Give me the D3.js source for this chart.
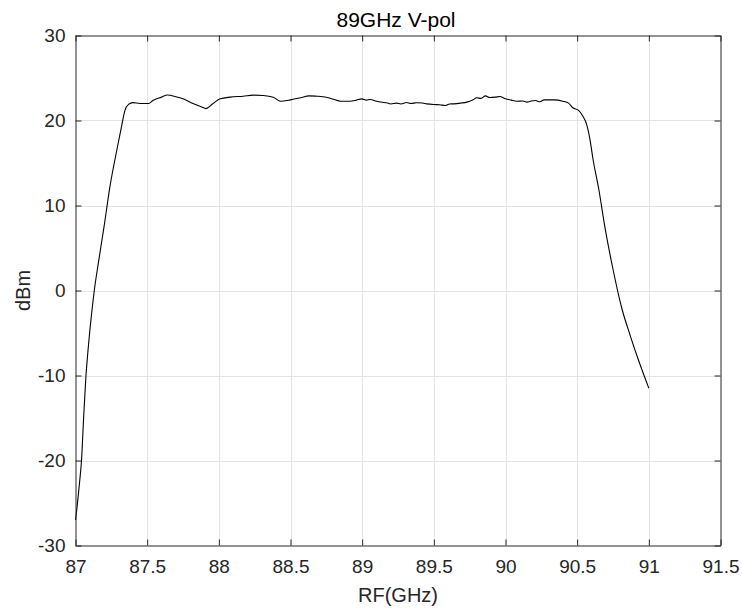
<!DOCTYPE html>
<html>
<head>
<meta charset="utf-8">
<script src="https://cdn.jsdelivr.net/npm/d3@7"></script>
<style>
  body { margin: 0; background: #fff; }
  svg { display: block; font-family: "Liberation Sans", Arial, sans-serif; }
</style>
</head>
<body>
<div id="chart"></div>
<script>
const freqGHz = [
  87.000, 87.010, 87.020, 87.030, 87.042, 87.056, 87.072, 87.086, 87.100, 87.115,
  87.131, 87.160, 87.200, 87.240, 87.288, 87.320, 87.345, 87.370, 87.400,
  87.450, 87.510, 87.540, 87.600, 87.640, 87.700, 87.750, 87.820, 87.880, 87.910,
  87.960, 88.010, 88.080, 88.170, 88.240, 88.310, 88.380, 88.430, 88.500, 88.570,
  88.630, 88.680, 88.750, 88.800, 88.850, 88.915, 88.960, 88.997, 89.030, 89.055,
  89.100, 89.140, 89.170, 89.200, 89.240, 89.270, 89.310, 89.340, 89.380, 89.420,
  89.450, 89.500, 89.540, 89.580, 89.610, 89.640, 89.690, 89.730, 89.770, 89.800,
  89.830, 89.860, 89.890, 89.930, 89.960, 90.000, 90.040, 90.080, 90.120, 90.150,
  90.180, 90.210, 90.240, 90.270, 90.340, 90.400, 90.440, 90.470, 90.510, 90.540,
  90.565, 90.590, 90.610, 90.650, 90.695, 90.750, 90.810, 90.870, 90.930,
  91.000
];
const powerDBm = [
  -27.0, -25.6, -24.0, -22.3, -20.0, -15.2, -10.3, -7.3, -4.7, -2.3,
  0.0, 3.3, 7.6, 12.2, 16.5, 19.2, 21.2, 21.9, 22.1,
  22.0, 22.0, 22.35, 22.75, 23.0, 22.8, 22.55, 22.0, 21.6, 21.4,
  22.0, 22.55, 22.75, 22.86, 22.98, 22.94, 22.74, 22.27, 22.43, 22.67,
  22.9, 22.86, 22.74, 22.5, 22.27, 22.27, 22.4, 22.55, 22.4, 22.47,
  22.27, 22.15, 22.08, 21.95, 22.04, 21.95, 22.12, 22.0, 22.08, 22.05,
  21.96, 21.88, 21.85, 21.76, 21.95, 21.96, 22.05, 22.16, 22.4, 22.67,
  22.6, 22.9, 22.7, 22.75, 22.82, 22.55, 22.4, 22.27, 22.3, 22.16,
  22.3, 22.35, 22.2, 22.43, 22.43, 22.27, 22.04, 21.5, 21.2, 20.5,
  19.6, 17.7, 15.5, 12.0, 7.3, 2.5, -2.0, -5.3, -8.3,
  -11.5
];
const xTicks = [87, 87.5, 88, 88.5, 89, 89.5, 90, 90.5, 91, 91.5];
const yTicks = [-30, -20, -10, 0, 10, 20, 30];

const width = 742, height = 612;
const axisColor = "#262626";

const svg = d3.select("#chart").append("svg")
  .attr("width", width)
  .attr("height", height);

const x = d3.scaleLinear().domain([87, 91.5]).range([75.5, 720.5]);
const y = d3.scaleLinear().domain([-30, 30]).range([545.5, 35.5]);

// grid
const grid = svg.append("g").attr("stroke", "#e3e3e3").attr("stroke-width", 1);
grid.selectAll(".gx").data(xTicks.slice(1, -1)).join("line")
  .attr("x1", d => Math.round(x(d)) + 0.5).attr("x2", d => Math.round(x(d)) + 0.5)
  .attr("y1", y(30)).attr("y2", y(-30));
grid.selectAll(".gy").data(yTicks.slice(1, -1)).join("line")
  .attr("y1", d => Math.round(y(d)) + 0.5).attr("y2", d => Math.round(y(d)) + 0.5)
  .attr("x1", x(87)).attr("x2", x(91.5));

// data line
const pts = d3.zip(freqGHz, powerDBm);
svg.append("path")
  .datum(pts)
  .attr("fill", "none")
  .attr("stroke", "#000")
  .attr("stroke-width", 1.1)
  .attr("stroke-linejoin", "round")
  .attr("d", d3.line().curve(d3.curveMonotoneX).x(d => x(d[0])).y(d => y(d[1])));

// axes (ticks inward on all four sides)
const styleAxis = g => {
  g.select(".domain").attr("stroke", axisColor);
  g.selectAll(".tick line").attr("stroke", axisColor);
  g.selectAll(".tick text").attr("fill", axisColor)
    .attr("font-size", 19).attr("font-family", "Liberation Sans, Arial, sans-serif");
};

const fmt = d => String(d);

svg.append("g")
  .attr("transform", `translate(0,${y(-30)})`)
  .call(d3.axisBottom(x).tickValues(xTicks).tickFormat(fmt).tickSize(-6).tickSizeOuter(0).tickPadding(14))
  .call(styleAxis);

svg.append("g")
  .attr("transform", `translate(0,${y(30)})`)
  .call(d3.axisTop(x).tickValues(xTicks).tickFormat("").tickSize(-6).tickSizeOuter(0))
  .call(styleAxis);

svg.append("g")
  .attr("transform", `translate(${x(87)},0)`)
  .call(d3.axisLeft(y).tickValues(yTicks).tickFormat(fmt).tickSize(-6).tickSizeOuter(0).tickPadding(10))
  .call(styleAxis);

svg.append("g")
  .attr("transform", `translate(${x(91.5)},0)`)
  .call(d3.axisRight(y).tickValues(yTicks).tickFormat("").tickSize(-6).tickSizeOuter(0))
  .call(styleAxis);

// labels
svg.append("text")
  .attr("x", 396).attr("y", 27)
  .attr("text-anchor", "middle")
  .attr("font-size", 21)
  .attr("fill", "#000")
  .text("89GHz V-pol");

svg.append("text")
  .attr("x", 398).attr("y", 602)
  .attr("text-anchor", "middle")
  .attr("font-size", 20)
  .attr("fill", axisColor)
  .text("RF(GHz)");

svg.append("text")
  .attr("transform", `translate(30,${(y(30) + y(-30)) / 2}) rotate(-90)`)
  .attr("text-anchor", "middle")
  .attr("font-size", 20)
  .attr("fill", axisColor)
  .text("dBm");
</script>
</body>
</html>
